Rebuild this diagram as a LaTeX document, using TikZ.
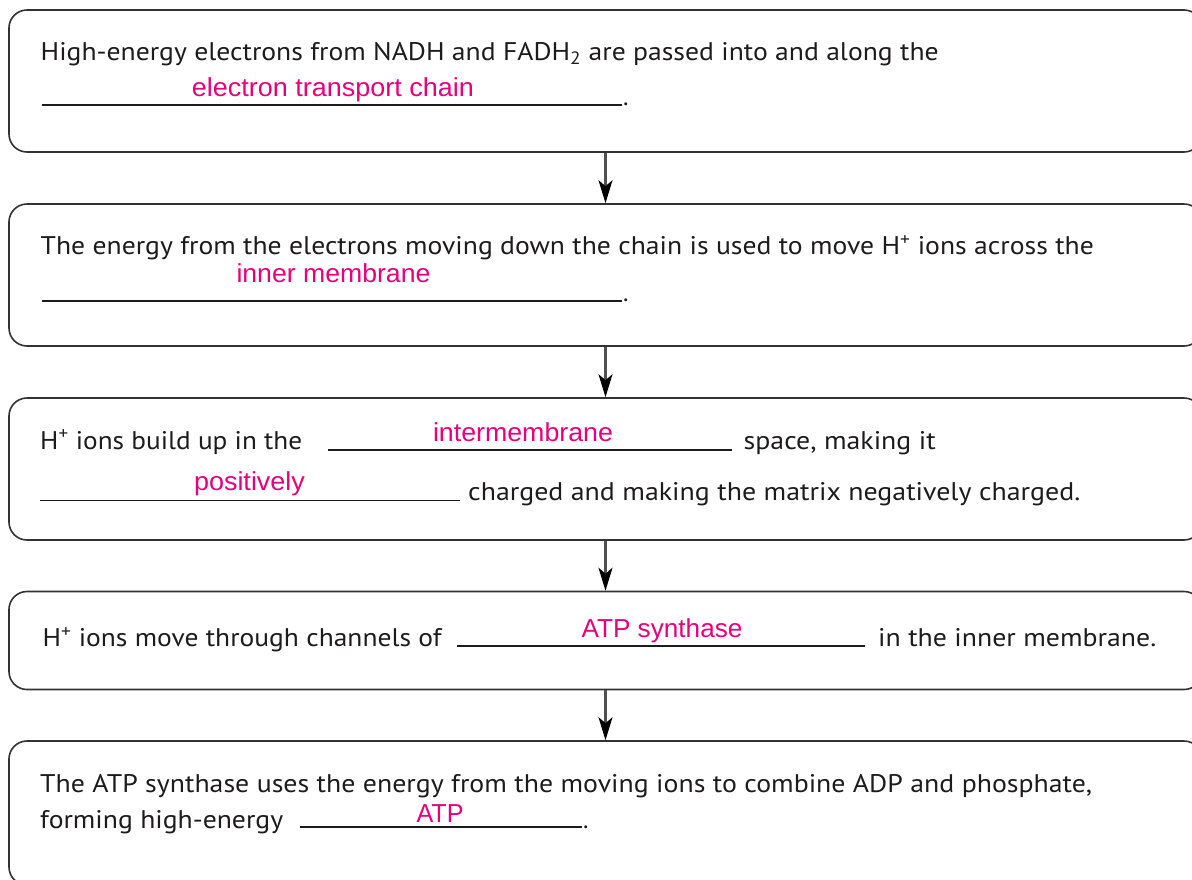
\documentclass[tikz,border=0pt]{standalone}
\usepackage{fontspec}
\usepackage{graphicx}
\setmainfont{PT Sans}
\newfontfamily\pinkfam{Liberation Sans}
\usetikzlibrary{arrows.meta}
\definecolor{ink}{RGB}{30,27,28}
\definecolor{pinkans}{RGB}{230,0,126}
\definecolor{rulec}{RGB}{50,50,50}
\definecolor{shaft}{RGB}{80,80,80}
\newcommand{\fw}[2]{\resizebox{#1pt}{\height}{#2}}
\begin{document}
\begin{tikzpicture}[x=1pt,y=-1pt,
  box/.style={draw=rulec, line width=1.6pt, rounded corners=18pt, minimum width=1193pt, inner sep=0pt},
  txt/.style={anchor=base west, inner sep=0pt, text=ink, font=\fontsize{25.5}{30}\selectfont},
  ans/.style={anchor=base, inner sep=0pt, text=pinkans, font=\pinkfam\fontsize{26}{30}\selectfont},
  blank/.style={draw=ink, line width=1.5pt},
  flow/.style={draw=shaft, line width=2.2pt, -{Stealth[length=23pt,width=14pt,inset=6pt,color=black]}}]
\useasboundingbox (0,0) rectangle (1192,879);
\clip (0,0) rectangle (1192,879);
% boxes
\node[box, minimum height=142pt] (b1) at (605.5,81) {};
\node[box, minimum height=142pt] (b2) at (605.5,275) {};
\node[box, minimum height=142pt] (b3) at (605.5,469) {};
\node[box, minimum height=98pt] (b4) at (605.5,640.5) {};
\node[box, minimum height=144pt] (b5) at (605.5,813) {};
% arrows
\draw[flow] (b1.south) -- (b2.north);
\draw[flow] (b2.south) -- (b3.north);
\draw[flow] (b3.south) -- (b4.north);
\draw[flow] (b4.south) -- (b5.north);
% box 1
\node[txt] (t1) at (40.5,60) {\fw{898}{High-energy electrons from NADH and FADH\textsubscript{2} are passed into and along the}};
\draw[blank] (42,105) -- (622,105);
\node[txt] (p1) at (623,105) {.};
\node[ans] (a1) at (333,96) {\fw{282}{electron transport chain}};
% box 2
\node[txt] (t2) at (40.5,254.5) {\fw{1053}{The energy from the electrons moving down the chain is used to move H\textsuperscript{+} ions across the}};
\draw[blank] (42,301) -- (622,301);
\node[txt] (p2) at (623,301) {.};
\node[ans] (a2) at (333.5,282.5) {\fw{194}{inner membrane}};
% box 3
\node[txt] (t3a) at (40,449) {\fw{262}{H\textsuperscript{+} ions build up in the}};
\draw[blank] (328,450) -- (732,450);
\node[ans] (a3a) at (523,441) {\fw{180}{intermembrane}};
\node[txt] (t3b) at (743.5,449) {\fw{192}{space, making it}};
\draw[blank] (40,500.5) -- (460,500.5);
\node[ans] (a3b) at (249.5,490.5) {\fw{111}{positively}};
\node[txt] (t3c) at (468,500.5) {\fw{612}{charged and making the matrix negatively charged.}};
% box 4
\node[txt] (t4a) at (42.5,646.5) {\fw{399}{H\textsuperscript{+} ions move through channels of}};
\draw[blank] (457,646) -- (865,646);
\node[ans] (a4) at (662,637) {\fw{161}{ATP synthase}};
\node[txt] (t4b) at (878,646.5) {\fw{278}{in the inner membrane.}};
% box 5
\node[txt] (t5a) at (40,792) {\fw{1052}{The ATP synthase uses the energy from the moving ions to combine ADP and phosphate,}};
\node[txt] (t5b) at (40,828) {\fw{243}{forming high-energy}};
\draw[blank] (300,827) -- (582,827);
\node[txt] (p5) at (583,828) {.};
\node[ans] (a5) at (440,822) {\fw{47}{ATP}};
\end{tikzpicture}
\end{document}
